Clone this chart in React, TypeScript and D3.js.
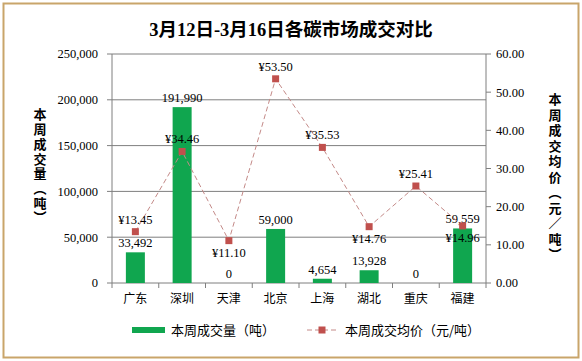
import React from "react";
import * as d3 from "d3";

const categories = ["广东", "深圳", "天津", "北京", "上海", "湖北", "重庆", "福建"];
const volumes = [33492, 191990, 0, 59000, 4654, 13928, 0, 59559];
const prices = [13.45, 34.46, 11.1, 53.5, 35.53, 14.76, 25.41, 14.96];
const priceLabelBelow = [false, false, true, false, false, true, false, true];
const leftTicks = [0, 50000, 100000, 150000, 200000, 250000];
const rightTicks = [0, 10, 20, 30, 40, 50, 60];
const title = "3月12日-3月16日各碳市场成交对比";
const leftTitle = "本周成交量（吨）";
const rightTitle = "本周成交均价（元／吨）";
const legendBar = "本周成交量（吨）";
const legendLine = "本周成交均价（元/吨）";

const W = 582, H = 361;
const L = 112, R = 486, T = 54, B = 283;
const serif = "'Liberation Serif', 'Times New Roman', 'Noto Sans CJK SC', serif";
const cjk = "'Noto Sans CJK SC', sans-serif";
const GREEN = "#10a64f";
const RED = "#c0504d";

export default function App() {
  const x = d3.scaleBand<string>().domain(categories).range([L, R]);
  const yL = d3.scaleLinear().domain([0, 250000]).range([B, T]);
  const yR = d3.scaleLinear().domain([0, 60]).range([B, T]);
  const fmtV = d3.format(",");
  const fmtP = (v: number) => "¥" + v.toFixed(2);
  const barW = 19;
  const cx = (c: string) => (x(c) as number) + x.bandwidth() / 2;
  const line = d3
    .line<number>()
    .x((_, i) => cx(categories[i]))
    .y((d) => yR(d));

  return (
    <svg width={W} height={H} style={{ display: "block", position: "absolute", left: 0, top: 0 }}>
      <rect x={0} y={0} width={W} height={H} fill="#fff" />
      <rect x={3.5} y={3.5} width={W - 7} height={H - 7} fill="#fff" stroke="#c9a56a" strokeWidth={2} />
      <text x={291} y={36} textAnchor="middle" fontFamily={serif} fontWeight="bold" fontSize={18.5} fill="#000">
        {title}
      </text>
      {/* gridlines */}
      {leftTicks.map((t) => (
        <line key={"g" + t} x1={L} x2={R} y1={yL(t)} y2={yL(t)} stroke="#7f7f7f" strokeWidth={1} />
      ))}
      {/* axes */}
      <line x1={L} x2={L} y1={T} y2={B} stroke="#7f7f7f" />
      <line x1={R} x2={R} y1={T} y2={B} stroke="#7f7f7f" />
      {leftTicks.map((t) => (
        <g key={"l" + t}>
          <line x1={L - 5} x2={L} y1={yL(t)} y2={yL(t)} stroke="#7f7f7f" />
          <text x={98} y={yL(t)} dy="0.35em" textAnchor="end" fontFamily={serif} fontSize={12.5} fill="#000">
            {fmtV(t)}
          </text>
        </g>
      ))}
      {rightTicks.map((t) => (
        <g key={"r" + t}>
          <line x1={R} x2={R + 5} y1={yR(t)} y2={yR(t)} stroke="#7f7f7f" />
          <text x={496} y={yR(t)} dy="0.35em" textAnchor="start" fontFamily={serif} fontSize={12.5} fill="#000">
            {t.toFixed(2)}
          </text>
        </g>
      ))}
      {/* x ticks */}
      {categories.map((c, i) => (
        <line key={"xt" + i} x1={x(c)} x2={x(c)} y1={B} y2={B + 5} stroke="#7f7f7f" />
      ))}
      <line x1={R} x2={R} y1={B} y2={B + 5} stroke="#7f7f7f" />
      {categories.map((c) => (
        <text key={"xl" + c} x={cx(c)} y={299} dy="0.35em" textAnchor="middle" fontFamily={cjk} fontSize={12} fill="#000">
          {c}
        </text>
      ))}
      {/* bars */}
      {volumes.map((v, i) => (
        <rect key={"b" + i} x={cx(categories[i]) - barW / 2} y={yL(v)} width={barW} height={B - yL(v)} fill={GREEN} />
      ))}
      {volumes.map((v, i) => (
        <text key={"bl" + i} x={cx(categories[i])} y={yL(v) - 5} textAnchor="middle" fontFamily={serif} fontSize={12.5} fill="#000">
          {fmtV(v)}
        </text>
      ))}
      {/* line */}
      <path d={line(prices) || ""} fill="none" stroke="#c48a88" strokeWidth={1} strokeDasharray="5,3" />
      {prices.map((p, i) => (
        <rect key={"m" + i} x={cx(categories[i]) - 3.5} y={yR(p) - 3.5} width={7} height={7} fill={RED} />
      ))}
      {prices.map((p, i) => (
        <text
          key={"pl" + i}
          x={cx(categories[i])}
          y={priceLabelBelow[i] ? yR(p) + 16 : yR(p) - 8}
          textAnchor="middle"
          fontFamily={serif}
          fontSize={12.5}
          fill="#000"
        >
          {fmtP(p)}
        </text>
      ))}
      {/* axis titles */}
      <text
        x={40}
        y={108}
        style={{ writingMode: "vertical-rl" as any, letterSpacing: "1.7px" }}
        fontFamily={cjk}
        fontWeight="bold"
        fontSize={13}
        fill="#000"
      >
        {leftTitle}
      </text>
      <text
        x={555}
        y={93}
        style={{ writingMode: "vertical-rl" as any, letterSpacing: "2.5px" }}
        fontFamily={cjk}
        fontWeight="bold"
        fontSize={13}
        fill="#000"
      >
        {rightTitle}
      </text>
      {/* legend */}
      <rect x={132} y={327} width={33} height={6} fill={GREEN} />
      <text x={171} y={330} dy="0.35em" fontFamily={cjk} fontSize={13} fill="#000">
        {legendBar}
      </text>
      <line x1={307} x2={337} y1={330} y2={330} stroke="#c48a88" strokeDasharray="5,3" />
      <rect x={318.5} y={326.5} width={7} height={7} fill={RED} />
      <text x={345} y={330} dy="0.35em" fontFamily={cjk} fontSize={13} fill="#000">
        {legendLine}
      </text>
    </svg>
  );
}
